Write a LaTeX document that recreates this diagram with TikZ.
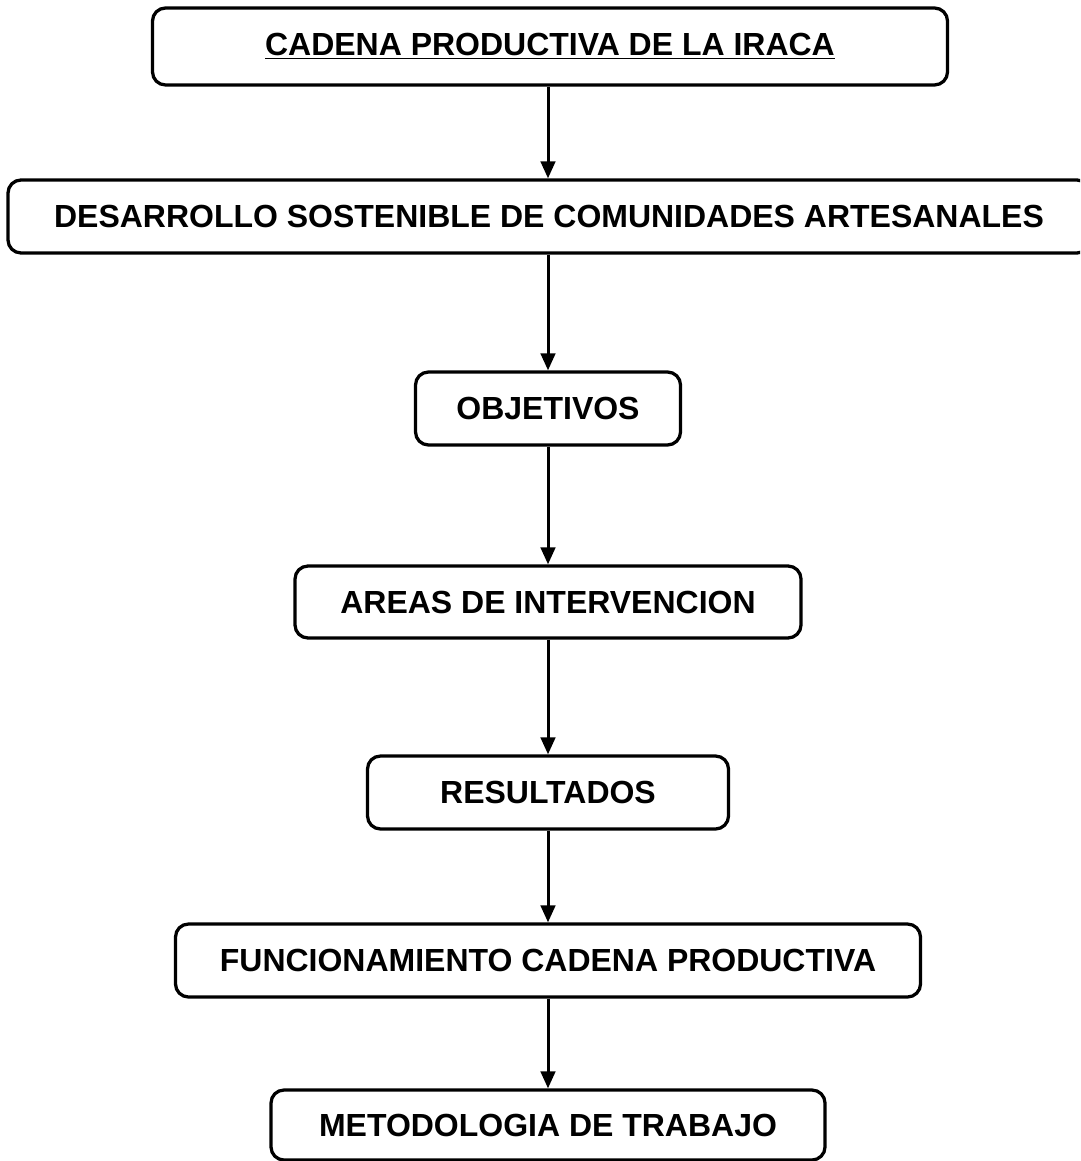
\documentclass[tikz,border=0pt]{standalone}
\usepackage{fontspec}
\setmainfont{Liberation Sans}
\usetikzlibrary{arrows.meta}
\usetikzlibrary{positioning}

\begin{document}
\begin{tikzpicture}[
  dep/.style ={
    -{Triangle[length=3.4mm,width=2.9mm]},line width=0.6mm
  },
  stage/.style 2 args={
    rectangle,
    rounded corners=2.6mm,
    draw=black,
    line width=0.65mm,
    minimum width=#1cm,
    minimum height=#2cm,
    font=\bfseries\fontsize{18.2}{21}\selectfont,
    inner sep=0pt},
]

  \def\colx{10.96}%

  \clip (0,0) rectangle (21.6,-23.22);
  \fill[white] (0,0) rectangle (21.6,-23.22);

    % Chain of stages
    \node[stage={15.9}{1.54}] (cadena) at (11.0,-0.93)
        {\underline{CADENA PRODUCTIVA DE LA IRACA}};
    \node[stage={21.64}{1.46}] (desarrollo) at (10.98,-4.33)
        {DESARROLLO SOSTENIBLE DE COMUNIDADES ARTESANALES};
    \node[stage={5.3}{1.46}] (objetivos) at (\colx,-8.17) {OBJETIVOS};
    \node[stage={10.12}{1.44}] (areas) at (\colx,-12.04) {AREAS DE INTERVENCION};
    \node[stage={7.22}{1.46}] (resultados) at (\colx,-15.85) {RESULTADOS};
    \node[stage={14.9}{1.46}] (funcionamiento) at (\colx,-19.21)
        {FUNCIONAMIENTO CADENA PRODUCTIVA};
    \node[stage={11.08}{1.4}] (metodologia) at (\colx,-22.5)
        {METODOLOGIA DE TRABAJO};

    \foreach \start/\stop in {cadena/desarrollo,desarrollo/objetivos,
        objetivos/areas,areas/resultados,resultados/funcionamiento,
        funcionamiento/metodologia} {
        \draw[dep] (\start.south -| objetivos) -- (\stop.north -| objetivos);
    }

\end{tikzpicture}
\end{document}
